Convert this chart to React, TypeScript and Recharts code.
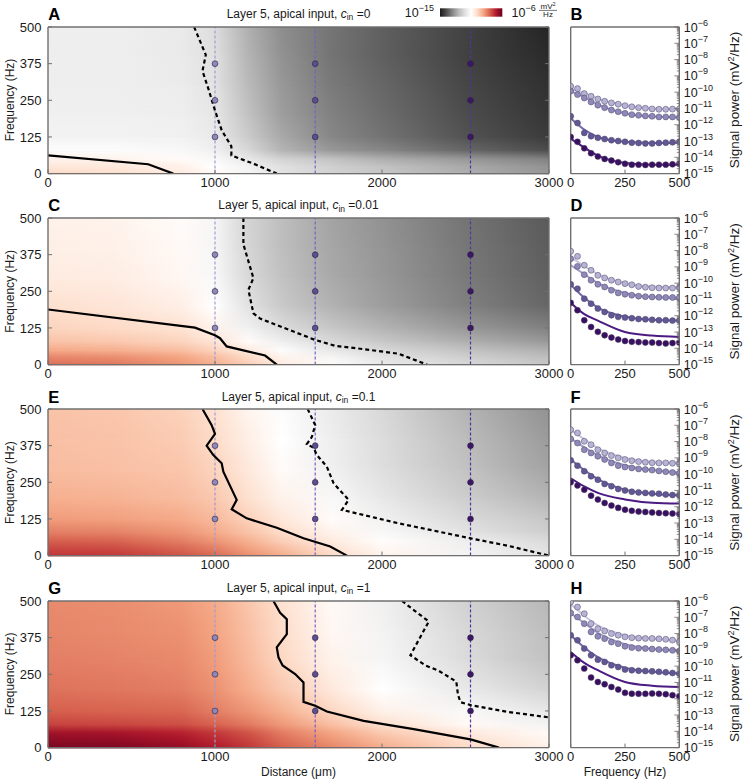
import React from "react";
import { ComposedChart, XAxis, YAxis, Line, Scatter, ReferenceArea, ReferenceLine } from "recharts";

const FONT = '"Liberation Sans", Arial, Helvetica, sans-serif';
const AXIS = "#707070";
const TXT = "#1a1a1a";

// ---------- heatmap data (log10 signal power, mV^2/Hz) ----------
const hmDistances = [0, 400, 800, 1000, 1200, 1400, 1700, 2000, 2500, 3000];
const hmFrequencies = [0, 25, 50, 80, 125, 200, 300, 400, 500];
const distanceTicks = [0, 1000, 2000, 3000];
const freqTicks = [0, 125, 250, 375, 500];

const powerA = [
  [-9.6, -9.7, -10.0, -10.35, -10.8, -11.3, -11.7, -12.0, -12.5, -12.9],
  [-9.9, -9.95, -10.15, -10.5, -10.9, -11.4, -11.8, -12.1, -12.6, -13.0],
  [-10.2, -10.2, -10.4, -10.7, -11.2, -11.7, -12.1, -12.5, -12.9, -13.3],
  [-10.6, -10.6, -10.7, -10.95, -11.6, -12.4, -12.9, -13.2, -13.7, -14.1],
  [-10.85, -10.85, -10.9, -11.1, -11.9, -12.6, -13.2, -13.5, -14.0, -14.4],
  [-10.95, -10.95, -11.0, -11.2, -12.1, -12.8, -13.3, -13.6, -14.1, -14.5],
  [-11.0, -11.0, -11.05, -11.35, -12.3, -12.9, -13.4, -13.7, -14.2, -14.6],
  [-11.0, -11.0, -11.1, -11.4, -12.4, -13.0, -13.5, -13.8, -14.3, -14.7],
  [-11.0, -11.0, -11.1, -11.5, -12.5, -13.1, -13.5, -13.8, -14.3, -14.8],
];
const powerC = [
  [-8.0, -8.1, -8.5, -8.9, -9.4, -10.0, -10.6, -11.1, -11.6, -12.0],
  [-8.3, -8.4, -8.7, -9.1, -9.6, -10.2, -10.8, -11.3, -11.8, -12.2],
  [-8.8, -8.9, -9.15, -9.5, -10.0, -10.6, -11.2, -11.6, -12.1, -12.5],
  [-9.2, -9.3, -9.5, -9.85, -10.4, -11.0, -11.6, -12.0, -12.5, -12.9],
  [-9.5, -9.6, -9.8, -10.2, -10.9, -11.5, -12.0, -12.4, -12.9, -13.3],
  [-9.75, -9.85, -10.1, -10.5, -11.35, -11.95, -12.45, -12.8, -13.3, -13.7],
  [-10.0, -10.05, -10.3, -10.7, -11.6, -12.1, -12.6, -12.9, -13.4, -13.8],
  [-10.1, -10.15, -10.35, -10.75, -11.65, -12.2, -12.65, -12.95, -13.45, -13.85],
  [-10.15, -10.2, -10.4, -10.8, -11.7, -12.2, -12.7, -13.0, -13.5, -13.9],
];
const powerE = [
  [-7.25, -7.3, -7.65, -7.95, -8.4, -8.85, -9.6, -10.2, -10.8, -11.3],
  [-7.5, -7.55, -7.9, -8.2, -8.65, -9.1, -9.8, -10.3, -10.9, -11.4],
  [-7.8, -7.85, -8.2, -8.5, -8.9, -9.4, -10.0, -10.45, -11.0, -11.55],
  [-8.2, -8.25, -8.5, -8.8, -9.2, -9.65, -10.2, -10.7, -11.3, -11.8],
  [-8.6, -8.65, -8.8, -9.05, -9.45, -9.9, -10.4, -10.9, -11.55, -12.0],
  [-8.9, -8.95, -9.1, -9.3, -9.75, -10.2, -10.7, -11.2, -11.85, -12.4],
  [-9.1, -9.15, -9.25, -9.5, -9.95, -10.4, -10.95, -11.45, -12.1, -12.7],
  [-9.15, -9.2, -9.35, -9.65, -10.1, -10.5, -11.0, -11.5, -12.25, -12.85],
  [-9.2, -9.25, -9.45, -9.75, -10.25, -10.6, -11.1, -11.6, -12.4, -13.0],
];
const powerG = [
  [-6.25, -6.3, -6.55, -6.9, -7.3, -7.8, -8.3, -8.85, -9.6, -10.15],
  [-6.45, -6.5, -6.75, -7.1, -7.45, -7.95, -8.5, -9.05, -9.75, -10.25],
  [-6.7, -6.75, -7.0, -7.3, -7.65, -8.15, -8.7, -9.3, -9.95, -10.35],
  [-7.45, -7.5, -7.6, -7.85, -8.15, -8.55, -9.15, -9.75, -10.35, -10.85],
  [-7.8, -7.85, -7.9, -8.2, -8.5, -8.9, -9.55, -10.15, -10.7, -11.2],
  [-8.05, -8.1, -8.2, -8.45, -8.85, -9.3, -9.95, -10.5, -11.15, -11.7],
  [-8.2, -8.25, -8.35, -8.6, -9.05, -9.55, -10.2, -10.75, -11.5, -12.1],
  [-8.3, -8.35, -8.45, -8.7, -9.15, -9.65, -10.3, -10.85, -11.6, -12.2],
  [-8.35, -8.4, -8.55, -8.8, -9.25, -9.75, -10.35, -10.95, -11.75, -12.35],
];

// contour lines [distance, frequency]
const solidA = [[0, 62], [600, 32], [750, 0]];
const dashedA = [[875, 500], [945, 405], [925, 350], [960, 290], [1000, 215], [1040, 148], [1098, 93], [1098, 62], [1230, 34], [1370, 0]];
const solidC = [[0, 188], [880, 126], [1000, 100], [1030, 90], [1070, 62], [1300, 31], [1370, 0]];
const dashedC = [[1170, 500], [1170, 410], [1230, 295], [1200, 255], [1230, 175], [1270, 157], [1600, 84], [1720, 64], [1900, 52], [2100, 37], [2270, 0]];
const solidE = [[925, 500], [980, 445], [1000, 415], [950, 375], [990, 343], [1040, 315], [1050, 286], [1130, 190], [1100, 158], [1190, 127], [1370, 95], [1530, 59], [1690, 31], [1790, 0]];
const dashedE = [[1555, 500], [1600, 445], [1580, 405], [1550, 380], [1590, 368], [1610, 343], [1670, 303], [1710, 247], [1800, 190], [1760, 156], [2100, 110], [2530, 59], [2750, 34], [3000, 0]];
const solidG = [[1350, 500], [1390, 460], [1430, 438], [1430, 387], [1370, 342], [1380, 308], [1405, 280], [1480, 251], [1530, 222], [1530, 156], [1600, 143], [1670, 123], [1890, 91], [2190, 63], [2530, 28], [2700, 0]];
const dashedG = [[2120, 500], [2200, 465], [2280, 430], [2170, 315], [2260, 280], [2340, 262], [2445, 225], [2455, 180], [2470, 155], [2530, 145], [2750, 122], [3000, 103]];

// sampled distances & frequencies
const markerDistances = [1000, 1600, 2530];
const markerFreqs = [125, 250, 375];
const markerLineColors = ["#a29bd2", "#7463c0", "#53339c"];
const markerDotColors = ["#8f88ba", "#5d4f8f", "#3c1766"];

// ---------- spectra (log10 power) ----------
const specFreqs = [0, 31.25, 62.5, 93.75, 125, 156.25, 187.5, 218.75, 250, 281.25, 312.5, 343.75, 375, 406.25, 437.5, 468.75, 500];
const lineFreqs = [0, 62.5, 125, 250, 375, 500];
const specFreqTicks = [0, 250, 500];
const powerTicks = [-15, -14, -13, -12, -11, -10, -9, -8, -7, -6];

const dotsB = [
  [-9.64, -9.78, -10.09, -10.25, -10.42, -10.56, -10.66, -10.74, -10.83, -10.9, -10.95, -10.99, -11.03, -11.05, -11.05, -11.04, -11.03],
  [-9.93, -10.15, -10.36, -10.6, -10.8, -10.95, -11.1, -11.2, -11.3, -11.38, -11.42, -11.46, -11.48, -11.52, -11.52, -11.52, -11.55],
  [-11.48, -11.9, -12.5, -12.7, -12.8, -12.88, -12.95, -13.0, -13.05, -13.1, -13.12, -13.15, -13.15, -13.12, -13.1, -13.08, -13.05],
  [-12.75, -13.05, -13.45, -13.75, -13.95, -14.1, -14.2, -14.3, -14.4, -14.45, -14.45, -14.47, -14.45, -14.45, -14.45, -14.43, -14.4],
];
const linesB = [
  [-9.8, -10.05, -10.4, -10.8, -11.0, -11.05],
  [-9.95, -10.3, -10.75, -11.3, -11.5, -11.55],
  [-11.6, -12.3, -12.75, -13.05, -13.12, -13.1],
  [-12.85, -13.4, -13.9, -14.35, -14.45, -14.45],
];
const dotsD = [
  [-8.04, -8.35, -8.9, -9.21, -9.52, -9.68, -9.82, -9.93, -10.03, -10.1, -10.2, -10.25, -10.28, -10.3, -10.3, -10.3, -10.28],
  [-8.5, -8.97, -9.48, -9.82, -10.07, -10.23, -10.44, -10.6, -10.68, -10.74, -10.8, -10.83, -10.85, -10.87, -10.88, -10.88, -10.89],
  [-10.07, -10.34, -10.95, -11.26, -11.56, -11.77, -11.97, -12.07, -12.11, -12.15, -12.2, -12.22, -12.25, -12.28, -12.28, -12.3, -12.3],
  [-11.21, -11.66, -12.28, -12.69, -12.99, -13.2, -13.34, -13.46, -13.55, -13.6, -13.62, -13.65, -13.65, -13.68, -13.7, -13.68, -13.65],
];
const linesD = [
  [-8.4, -8.95, -9.45, -10.0, -10.2, -10.25],
  [-8.9, -9.45, -10.0, -10.6, -10.85, -10.9],
  [-10.1, -10.9, -11.5, -12.05, -12.25, -12.3],
  [-11.2, -11.9, -12.3, -13.0, -13.22, -13.3],
];
const dotsF = [
  [-7.27, -7.47, -7.98, -8.19, -8.5, -8.7, -8.86, -9.0, -9.1, -9.17, -9.23, -9.27, -9.3, -9.31, -9.31, -9.33, -9.35],
  [-7.84, -8.09, -8.5, -8.7, -8.9, -9.1, -9.31, -9.48, -9.56, -9.62, -9.68, -9.72, -9.75, -9.8, -9.85, -9.9, -9.95],
  [-9.15, -9.48, -9.82, -10.13, -10.34, -10.6, -10.74, -10.91, -11.0, -11.08, -11.12, -11.15, -11.18, -11.2, -11.25, -11.28, -11.3],
  [-10.5, -10.7, -10.95, -11.32, -11.56, -11.77, -11.93, -12.07, -12.18, -12.25, -12.3, -12.32, -12.35, -12.38, -12.4, -12.42, -12.45],
];
const linesF = [
  [-7.3, -7.85, -8.4, -9.0, -9.25, -9.3],
  [-7.8, -8.35, -8.85, -9.45, -9.75, -9.9],
  [-9.1, -9.75, -10.3, -10.95, -11.2, -11.3],
  [-10.25, -10.75, -11.15, -11.55, -11.75, -11.8],
];
const dotsH = [
  [-6.06, -6.37, -6.78, -7.39, -7.7, -7.84, -8.0, -8.1, -8.2, -8.25, -8.28, -8.3, -8.3, -8.32, -8.35, -8.4, -8.5],
  [-6.74, -6.98, -7.39, -7.9, -8.17, -8.31, -8.52, -8.62, -8.78, -8.86, -8.9, -8.92, -8.95, -8.98, -9.0, -9.03, -9.07],
  [-8.1, -8.41, -8.92, -9.33, -9.6, -9.74, -9.95, -10.05, -10.21, -10.25, -10.28, -10.3, -10.32, -10.35, -10.38, -10.42, -10.46],
  [-9.33, -9.64, -10.15, -10.7, -10.97, -11.11, -11.28, -11.44, -11.64, -11.69, -11.7, -11.7, -11.68, -11.7, -11.72, -11.78, -11.85],
];
const linesH = [
  [-6.2, -6.9, -7.5, -8.1, -8.3, -8.45],
  [-6.75, -7.35, -7.95, -8.65, -8.95, -9.05],
  [-8.1, -8.85, -9.45, -10.1, -10.35, -10.45],
  [-9.13, -9.8, -10.25, -10.97, -11.2, -11.28],
];
const seriesDotColors = ["#b7b3d7", "#8f89bb", "#625796", "#3a0f62"];
const seriesLineColors = ["#c9c6e2", "#a29dcb", "#7668aa", "#4b1a82"];

// ---------- colormap (RdGy reversed) ----------
const CMAP = ["#1a1a1a", "#4d4d4d", "#878787", "#bababa", "#e0e0e0", "#ffffff", "#fddbc7", "#f4a582", "#d6604d", "#b2182b", "#67001f"];
const VMIN = -15;
const VMAX = -6;
function hex2rgb(h: string) {
  return [parseInt(h.slice(1, 3), 16), parseInt(h.slice(3, 5), 16), parseInt(h.slice(5, 7), 16)];
}
function cmap(v: number) {
  const t = Math.min(1, Math.max(0, (v - VMIN) / (VMAX - VMIN)));
  const s = t * (CMAP.length - 1);
  const i = Math.min(CMAP.length - 2, Math.floor(s));
  const u = s - i;
  const a = hex2rgb(CMAP[i]);
  const b = hex2rgb(CMAP[i + 1]);
  const c = a.map((x, k) => Math.round(x + (b[k] - x) * u));
  return `rgb(${c[0]},${c[1]},${c[2]})`;
}

const D_MAX = 3000;

function bandShape(lo: number[], hi: number[], uid: string) {
  return (p: any) => {
    const { x, y, width, height } = p;
    if (!Number.isFinite(x) || !Number.isFinite(y)) return <g />;
    return (
      <g>
        <defs>
          <linearGradient id={`lo-${uid}`} x1="0" y1="0" x2="1" y2="0">
            {hmDistances.map((d, i) => (
              <stop key={i} offset={d / D_MAX} stopColor={cmap(lo[i])} />
            ))}
          </linearGradient>
          <linearGradient id={`hi-${uid}`} x1="0" y1="0" x2="1" y2="0">
            {hmDistances.map((d, i) => (
              <stop key={i} offset={d / D_MAX} stopColor={cmap(hi[i])} />
            ))}
          </linearGradient>
          <linearGradient id={`vg-${uid}`} x1="0" y1="0" x2="0" y2="1">
            <stop offset="0" stopColor="#fff" />
            <stop offset="1" stopColor="#000" />
          </linearGradient>
          <mask id={`m-${uid}`} maskUnits="userSpaceOnUse" x={x} y={y} width={width} height={height + 1}>
            <rect x={x} y={y} width={width} height={height} fill={`url(#vg-${uid})`} />
          </mask>
        </defs>
        <rect x={x} y={y} width={width} height={height + 0.8} fill={`url(#lo-${uid})`} />
        <rect x={x} y={y} width={width} height={height} fill={`url(#hi-${uid})`} mask={`url(#m-${uid})`} />
      </g>
    );
  };
}

// ---------- ticks ----------
const TICK_FS = 13;
const bottomTick = (M: number, L: number, show: boolean) => (p: any) => {
  const edge = p.y - M;
  return (
    <g>
      <line x1={p.x} x2={p.x} y1={edge} y2={edge - L} stroke={AXIS} strokeWidth={1} />
      {show && (
        <text x={p.x} y={p.y} dy="0.72em" textAnchor="middle" fontSize={TICK_FS} fontFamily={FONT} fill={TXT}>
          {p.payload.value}
        </text>
      )}
    </g>
  );
};
const topTick = (L: number) => (p: any) => (
  <line x1={p.x} x2={p.x} y1={p.y} y2={p.y + L} stroke={AXIS} strokeWidth={1} />
);
const leftTick = (M: number, L: number) => (p: any) => {
  const edge = p.x + M;
  return (
    <g>
      <line x1={edge} x2={edge + L} y1={p.y} y2={p.y} stroke={AXIS} strokeWidth={1} />
      <text x={p.x} y={p.y} dy="0.36em" textAnchor="end" fontSize={TICK_FS} fontFamily={FONT} fill={TXT}>
        {p.payload.value}
      </text>
    </g>
  );
};
const rightMirrorTick = (L: number) => (p: any) => (
  <line x1={p.x} x2={p.x - L} y1={p.y} y2={p.y} stroke={AXIS} strokeWidth={1} />
);
const SPEC_M = 4.5;
const powerTick = (p: any) => {
  const v = p.payload.value as number;
  const edge = p.x - SPEC_M;
  const major = Math.abs(v - Math.round(v)) < 1e-6;
  return (
    <g>
      <line x1={edge} x2={edge - (major ? 5 : 2.5)} y1={p.y} y2={p.y} stroke={AXIS} strokeWidth={0.8} />
      {major && (
        <text x={p.x} y={p.y} dy={4.5} fontSize={12.5} fontFamily={FONT} fill={TXT}>
          10
          <tspan dy={-6} fontSize={9}>
            {"\u2212" + String(-Math.round(v))}
          </tspan>
        </text>
      )}
    </g>
  );
};
const minorPowerTicks: number[] = [];
for (let n = -15; n < -6; n++) for (let k = 2; k <= 9; k++) minorPowerTicks.push(n + Math.log10(k));
const allPowerTicks = [...powerTicks, ...minorPowerTicks].sort((a, b) => a - b);

// ---------- panels ----------
type PanelDef = {
  top: number;
  letterL: string;
  letterR: string;
  cin: string;
  grid: number[][];
  solid: number[][];
  dashed: number[][];
  dots: number[][];
  lines: number[][];
};
const panels: PanelDef[] = [
  { top: 26.7, letterL: "A", letterR: "B", cin: "0", grid: powerA, solid: solidA, dashed: dashedA, dots: dotsB, lines: linesB },
  { top: 218.0, letterL: "C", letterR: "D", cin: "0.01", grid: powerC, solid: solidC, dashed: dashedC, dots: dotsD, lines: linesD },
  { top: 409.3, letterL: "E", letterR: "F", cin: "0.1", grid: powerE, solid: solidE, dashed: dashedE, dots: dotsF, lines: linesF },
  { top: 600.6, letterL: "G", letterR: "H", cin: "1", grid: powerG, solid: solidG, dashed: dashedG, dots: dotsH, lines: linesH },
];
const PLOT_H = 146.6;
const CH_H = 190;
const HEAT_W = 580;

function HeatChart({ p, idx }: { p: PanelDef; idx: number }) {
  const toObj = (arr: number[][]) => arr.map(([d, f]) => ({ d, f }));
  const bands = [];
  for (let r = 0; r < hmFrequencies.length - 1; r++) {
    bands.push(
      <ReferenceArea
        key={`b${r}`}
        xAxisId="d"
        yAxisId="f"
        x1={0}
        x2={D_MAX}
        y1={hmFrequencies[r]}
        y2={hmFrequencies[r + 1]}
        ifOverflow="visible"
        shape={bandShape(p.grid[r], p.grid[r + 1], `p${idx}r${r}`)}
      />
    );
  }
  return (
    <div style={{ position: "absolute", left: 0, top: p.top - 20 }}>
      <ComposedChart width={HEAT_W} height={CH_H} margin={{ top: 19, right: HEAT_W - 549 - 1, bottom: CH_H - 20 - PLOT_H - 20, left: 0 }}>
        {bands}
        {markerDistances.map((d, i) => (
          <ReferenceLine key={`rl${i}`} xAxisId="d" yAxisId="f" x={d} stroke={markerLineColors[i]} strokeWidth={1.2} strokeDasharray="3 2" />
        ))}
        <Line xAxisId="d" yAxisId="f" data={toObj(p.solid)} dataKey="f" type="linear" stroke="#000" strokeWidth={2.2} dot={false} isAnimationActive={false} />
        <Line xAxisId="d" yAxisId="f" data={toObj(p.dashed)} dataKey="f" type="linear" stroke="#000" strokeWidth={2.2} strokeDasharray="4 3" dot={false} isAnimationActive={false} />
        {markerDistances.map((d, i) => (
          <Scatter
            key={`sc${i}`}
            xAxisId="d"
            yAxisId="f"
            data={markerFreqs.map((f) => ({ d, f }))}
            isAnimationActive={false}
            shape={(s: any) => <circle cx={s.cx} cy={s.cy} r={2.9} fill={markerDotColors[i]} stroke="#2a2040" strokeWidth={0.6} />}
          />
        ))}
        <XAxis xAxisId="d" dataKey="d" type="number" domain={[0, D_MAX]} ticks={distanceTicks} interval={0} height={20} tickSize={0} tickMargin={3.7} tickLine={false} axisLine={{ stroke: AXIS, strokeWidth: 1.4 }} tick={bottomTick(3.7, 4, true)} allowDataOverflow />
        <XAxis xAxisId="dt" orientation="top" type="number" domain={[0, D_MAX]} ticks={distanceTicks} interval={0} height={1} tickSize={0} tickMargin={0} tickLine={false} axisLine={{ stroke: AXIS, strokeWidth: 1.4 }} tick={topTick(4)} allowDataOverflow />
        <YAxis yAxisId="f" dataKey="f" type="number" domain={[0, 500]} ticks={freqTicks} interval={0} width={48} tickSize={0} tickMargin={6.5} tickLine={false} axisLine={{ stroke: AXIS, strokeWidth: 1.4 }} tick={leftTick(6.5, 4)} allowDataOverflow />
        <YAxis yAxisId="fr" orientation="right" type="number" domain={[0, 500]} ticks={freqTicks} interval={0} width={1} tickSize={0} tickMargin={0} tickLine={false} axisLine={{ stroke: AXIS, strokeWidth: 1.4 }} tick={rightMirrorTick(4)} allowDataOverflow />
      </ComposedChart>
    </div>
  );
}

function SpecChart({ p }: { p: PanelDef }) {
  return (
    <div style={{ position: "absolute", left: 560, top: p.top - 20 }}>
      <ComposedChart width={183} height={CH_H} margin={{ top: 19, right: 2.7, bottom: CH_H - 20 - PLOT_H - 20, left: 9.7 }}>
        {p.lines.map((vals, i) => (
          <Line
            key={`l${i}`}
            xAxisId="f"
            yAxisId="v"
            data={lineFreqs.map((f, k) => ({ f, v: vals[k] }))}
            dataKey="v"
            type="monotone"
            stroke={seriesLineColors[i]}
            strokeWidth={2}
            dot={false}
            isAnimationActive={false}
          />
        ))}
        {p.dots.map((vals, i) => (
          <Scatter
            key={`s${i}`}
            xAxisId="f"
            yAxisId="v"
            data={specFreqs.map((f, k) => ({ f, v: vals[k] }))}
            isAnimationActive={false}
            shape={(s: any) => <circle cx={s.cx} cy={s.cy} r={3} fill={seriesDotColors[i]} stroke="#4a4560" strokeWidth={0.5} />}
          />
        ))}
        <XAxis xAxisId="f" dataKey="f" type="number" domain={[0, 500]} ticks={specFreqTicks} interval={0} height={20} tickSize={0} tickMargin={3.7} tickLine={false} axisLine={{ stroke: AXIS, strokeWidth: 1.4 }} tick={bottomTick(3.7, 4, true)} allowDataOverflow />
        <XAxis xAxisId="ft" orientation="top" type="number" domain={[0, 500]} ticks={specFreqTicks} interval={0} height={1} tickSize={0} tickMargin={0} tickLine={false} axisLine={{ stroke: AXIS, strokeWidth: 1.4 }} tick={topTick(4)} allowDataOverflow />
        <YAxis yAxisId="vl" orientation="left" type="number" domain={[VMIN, VMAX]} width={1} tick={false} tickLine={false} axisLine={{ stroke: AXIS, strokeWidth: 1.4 }} allowDataOverflow />
        <YAxis yAxisId="v" orientation="right" dataKey="v" type="number" domain={[VMIN, VMAX]} ticks={allPowerTicks} interval={0} width={61} tickSize={0} tickMargin={SPEC_M} tickLine={false} axisLine={{ stroke: AXIS, strokeWidth: 1.4 }} tick={powerTick} allowDataOverflow />
      </ComposedChart>
    </div>
  );
}

function Overlay() {
  const cx = 298.5;
  return (
    <svg width={743} height={784} style={{ position: "absolute", left: 0, top: 0, pointerEvents: "none" }} fontFamily={FONT}>
      <defs>
        <linearGradient id="cbar" x1="0" y1="0" x2="1" y2="0">
          {CMAP.map((c, i) => (
            <stop key={i} offset={i / (CMAP.length - 1)} stopColor={c} />
          ))}
        </linearGradient>
      </defs>
      {/* colorbar */}
      <rect x={440} y={8.3} width={62.3} height={8.4} fill="url(#cbar)" />
      <text x={434} y={16.5} textAnchor="end" fontSize={12.5} fill={TXT}>
        10<tspan dy={-6} fontSize={9}>{"\u221215"}</tspan>
      </text>
      <text x={511.5} y={16.5} fontSize={12.5} fill={TXT}>
        10<tspan dy={-6} fontSize={9}>{"\u22126"}</tspan>
      </text>
      <text x={548} y={8.8} textAnchor="middle" fontSize={8} fill={TXT}>
        mV<tspan dy={-3} fontSize={5.5}>2</tspan>
      </text>
      <line x1={539} x2={557} y1={10.4} y2={10.4} stroke={TXT} strokeWidth={0.6} />
      <text x={548} y={17.3} textAnchor="middle" fontSize={8} fill={TXT}>
        Hz
      </text>
      {panels.map((p, i) => {
        const mid = p.top + PLOT_H / 2;
        return (
          <g key={i}>
            <text x={48.3} y={p.top - 6.8} fontSize={16.5} fontWeight="bold" fill="#000">
              {p.letterL}
            </text>
            <text x={570.5} y={p.top - 6.8} fontSize={16.5} fontWeight="bold" fill="#000">
              {p.letterR}
            </text>
            <text x={cx} y={p.top - 8.8} textAnchor="middle" fontSize={12} fill={TXT}>
              Layer 5, apical input,{" "}
              <tspan fontStyle="italic">c</tspan>
              <tspan fontSize={8.5} dy={2.5}>in</tspan>
              <tspan dy={-2.5}> =</tspan>
              {p.cin}
            </text>
            <text transform={`translate(13.8,${mid}) rotate(-90)`} textAnchor="middle" fontSize={12} fill={TXT}>
              Frequency (Hz)
            </text>
            <text transform={`translate(739,${mid}) rotate(-90)`} textAnchor="middle" fontSize={13.5} fill={TXT}>
              Signal power (mV<tspan dy={-5} fontSize={9}>2</tspan>
              <tspan dy={5}>/Hz)</tspan>
            </text>
          </g>
        );
      })}
      <text x={cx} y={776} textAnchor="middle" fontSize={12} fill={TXT}>
        Distance (μm)
      </text>
      <text x={625} y={776} textAnchor="middle" fontSize={12} fill={TXT}>
        Frequency (Hz)
      </text>
    </svg>
  );
}

export default function App() {
  return (
    <div style={{ position: "absolute", left: 0, top: 0, width: 743, height: 784, background: "#fff", fontFamily: FONT }}>
      {panels.map((p, i) => (
        <React.Fragment key={i}>
          <HeatChart p={p} idx={i} />
          <SpecChart p={p} />
        </React.Fragment>
      ))}
      <Overlay />
    </div>
  );
}
